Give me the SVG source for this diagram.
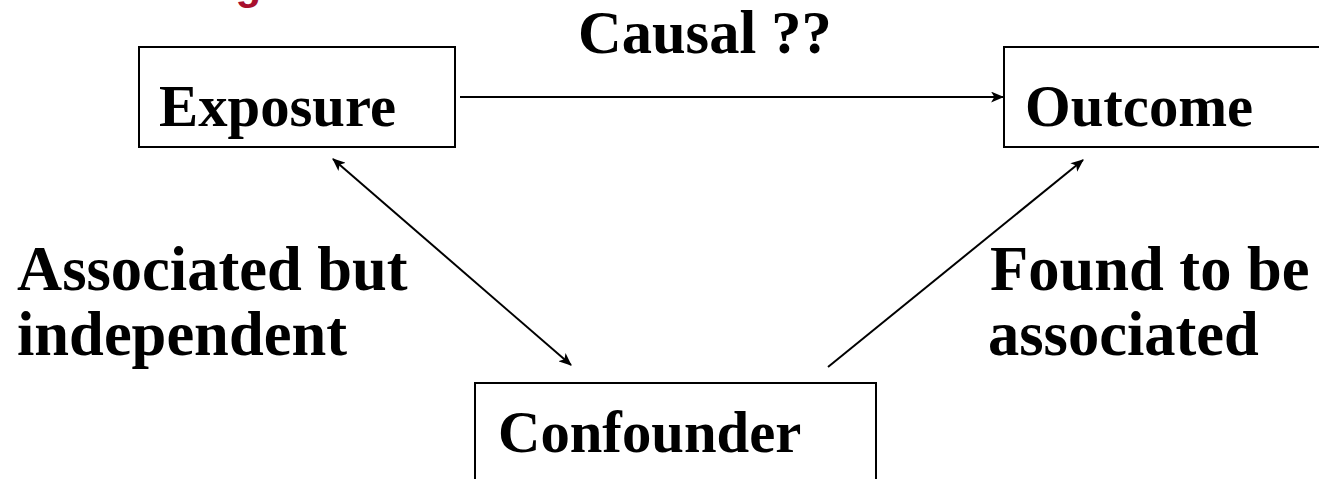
<svg xmlns="http://www.w3.org/2000/svg" width="1319" height="479" viewBox="0 0 1319 479">
<style>
.box{fill:#fff;stroke:#000;stroke-width:2}
.t{font-family:"Liberation Serif","Times New Roman",serif;font-weight:bold;fill:#000}
.n{font-size:58.7px}
.l{font-size:62.5px}
.c{stroke:#000;stroke-width:2;fill:none}
</style>
<defs>
<marker id="ah" viewBox="0 0 12 10" refX="11" refY="5" markerWidth="13" markerHeight="11" markerUnits="userSpaceOnUse" orient="auto-start-reverse">
<path d="M0,0 L12,5 L0,10 L3,5 Z" fill="#000"/>
</marker>
</defs>
<text x="0" y="-1" font-family="'Liberation Sans',Arial,sans-serif" font-weight="bold" font-size="42" fill="#A8102E">Confounding</text>
<g id="exposure">
<rect class="box" x="139" y="47" width="316" height="100"/>
<text class="t n" x="159" y="126">Exposure</text>
</g>
<g id="outcome">
<rect class="box" x="1004" y="47" width="330" height="100"/>
<text class="t n" x="1025" y="126">Outcome</text>
</g>
<g id="confounder">
<rect class="box" x="475" y="383" width="401" height="110"/>
<text class="t n" x="498" y="452">Confounder</text>
</g>
<g id="connectors">
<line class="c" x1="460" y1="97" x2="1003" y2="97" marker-end="url(#ah)"/>
<line class="c" x1="333" y1="159" x2="571" y2="365" marker-start="url(#ah)" marker-end="url(#ah)"/>
<line class="c" x1="828" y1="367" x2="1083" y2="160" marker-end="url(#ah)"/>
</g>
<g id="labels">
<text class="t" font-size="60.5" x="578" y="53">Causal ??</text>
<text class="t l" x="17" y="290">Associated but</text>
<text class="t l" x="17" y="355">independent</text>
<text class="t l" x="990" y="290">Found to be</text>
<text class="t l" x="988" y="355">associated</text>
</g>
</svg>
